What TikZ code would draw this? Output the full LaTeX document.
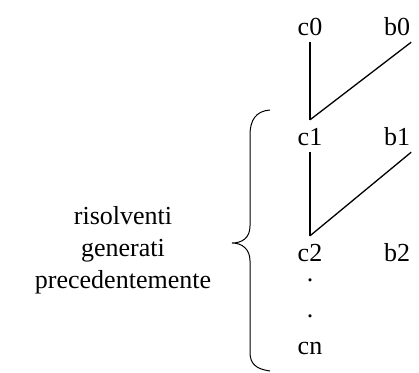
\documentclass[tikz,border=0pt]{standalone}
\usepackage{fontspec}
\setmainfont{Liberation Serif}
\begin{document}
\begin{tikzpicture}[x=1pt,y=-1pt,
  lbl/.style={font=\fontsize{26}{33}\selectfont, text height=18pt, text depth=0pt, inner xsep=1pt, inner ysep=7pt},
  dotn/.style={font=\fontsize{26}{33}\selectfont, inner sep=0pt, anchor=base},
  ln/.style={line width=1.3pt}]
\useasboundingbox (0,0) rectangle (419,372);
\node[lbl] (c0) at (310,26) {c0};
\node[lbl] (b0) at (397,26) {b0};
\node[lbl] (c1) at (310,136) {c1};
\node[lbl] (b1) at (397,136) {b1};
\node[lbl] (c2) at (310,252) {c2};
\node[lbl] (b2) at (397,252) {b2};
\node[dotn] (d1) at (310,281) {.};
\node[dotn] (d2) at (310,317) {.};
\node[lbl] (cn) at (310,345) {cn};
\draw[ln] (c0.south) -- (c1.north);
\draw[ln] (b0.south east) -- (c1.north);
\draw[ln] (c1.south) -- (c2.north);
\draw[ln] (b1.south east) -- (c2.north);
\node[font=\fontsize{26}{32}\selectfont, align=center] (txt) at (123,250) {risolventi\\generati\\precedentemente};
\draw[line width=1pt] (270,110) .. controls (256,111) and (250,120) .. (250,135) -- (250,226) .. controls (250,238) and (242,243) .. (232,243) .. controls (242,243) and (250,249) .. (250,261) -- (250,352) .. controls (250,364) and (256,369) .. (270,371);
\end{tikzpicture}
\end{document}
